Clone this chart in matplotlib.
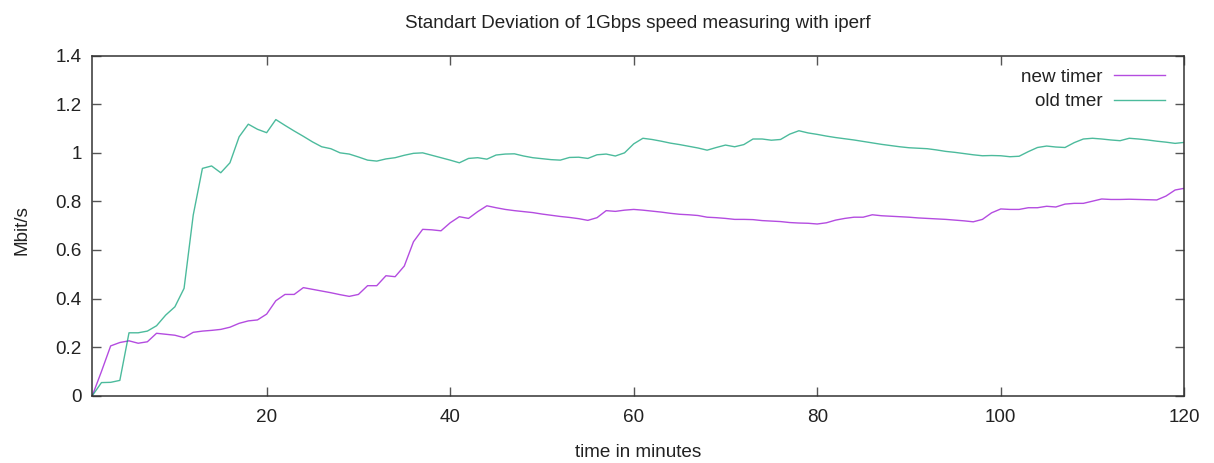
import matplotlib
matplotlib.use("Agg")
import matplotlib.pyplot as plt
from matplotlib.ticker import FormatStrFormatter, MultipleLocator

minutes = list(range(1, 121))
new_timer = [
    0.000, 0.100, 0.205, 0.219, 0.226, 0.216, 0.222, 0.257, 0.253, 0.249,
    0.239, 0.261, 0.266, 0.269, 0.273, 0.282, 0.298, 0.308, 0.312, 0.336,
    0.391, 0.417, 0.417, 0.445, 0.438, 0.431, 0.424, 0.416, 0.409, 0.417,
    0.453, 0.453, 0.494, 0.490, 0.534, 0.634, 0.685, 0.683, 0.679, 0.712,
    0.737, 0.730, 0.758, 0.782, 0.774, 0.767, 0.762, 0.758, 0.754, 0.748,
    0.743, 0.738, 0.734, 0.729, 0.722, 0.733, 0.762, 0.759, 0.764, 0.767,
    0.764, 0.760, 0.756, 0.751, 0.747, 0.745, 0.742, 0.735, 0.733, 0.730,
    0.726, 0.726, 0.725, 0.721, 0.719, 0.717, 0.713, 0.711, 0.710, 0.707,
    0.712, 0.723, 0.730, 0.735, 0.735, 0.745, 0.741, 0.739, 0.737, 0.735,
    0.732, 0.730, 0.728, 0.726, 0.723, 0.720, 0.716, 0.726, 0.753, 0.769,
    0.767, 0.767, 0.774, 0.774, 0.780, 0.777, 0.789, 0.792, 0.792, 0.801,
    0.810, 0.808, 0.808, 0.809, 0.808, 0.807, 0.806, 0.822, 0.847, 0.854,
]
old_timer = [
    0.000, 0.054, 0.055, 0.063, 0.259, 0.259, 0.266, 0.288, 0.332, 0.366,
    0.442, 0.744, 0.936, 0.946, 0.918, 0.959, 1.066, 1.118, 1.097, 1.083,
    1.137, 1.113, 1.090, 1.068, 1.045, 1.025, 1.017, 1.000, 0.995, 0.983,
    0.970, 0.966, 0.975, 0.980, 0.990, 0.998, 1.000, 0.990, 0.980, 0.970,
    0.959, 0.977, 0.980, 0.974, 0.991, 0.995, 0.996, 0.987, 0.980, 0.976,
    0.972, 0.970, 0.981, 0.982, 0.977, 0.992, 0.995, 0.987, 1.000, 1.037,
    1.060, 1.055, 1.048, 1.040, 1.034, 1.027, 1.020, 1.011, 1.022, 1.032,
    1.025, 1.034, 1.057, 1.057, 1.052, 1.055, 1.077, 1.091, 1.082, 1.076,
    1.069, 1.063, 1.058, 1.053, 1.047, 1.041, 1.035, 1.030, 1.025, 1.021,
    1.019, 1.017, 1.012, 1.006, 1.002, 0.997, 0.992, 0.988, 0.989, 0.988,
    0.984, 0.986, 1.005, 1.022, 1.028, 1.024, 1.022, 1.042, 1.057, 1.060,
    1.057, 1.053, 1.050, 1.060, 1.057, 1.053, 1.048, 1.044, 1.039, 1.043,
]
series_labels = ["new timer", "old tmer"]
title = "Standart Deviation of 1Gbps speed measuring with iperf"
xlabel = "time in minutes"
ylabel = "Mbit/s"

plt.rcParams['font.family'] = ['Liberation Sans', 'DejaVu Sans']
FS = 13.6
TXT = '#222222'

fig = plt.figure(figsize=(12.14, 4.63), dpi=100)
W, H = 1214, 463
left, right, top, bottom = 92.3, 1184.3, 55.7, 395.7
aw, ah = right - left, bottom - top
ax = fig.add_axes([left / W, 1 - bottom / H, aw / W, ah / H])

ax.plot(minutes, new_timer, color='#9400d3', lw=1.0, label=series_labels[0], alpha=0.7)
ax.plot(minutes, old_timer, color='#009e73', lw=1.0, label=series_labels[1], alpha=0.7)

ax.set_xlim(1, 120)
ax.set_ylim(0, 1.4)
ax.xaxis.set_major_locator(MultipleLocator(20))
ax.yaxis.set_major_locator(MultipleLocator(0.2))
ax.yaxis.set_major_formatter(FormatStrFormatter('%g'))

for s in ax.spines.values():
    s.set_color('#333333')
    s.set_linewidth(1.1)
ax.tick_params(direction='in', length=6.5, width=1.0, color='#555555',
               top=True, right=True, labelsize=FS, labelcolor=TXT)
ax.tick_params(axis='y', pad=7.6)
ax.tick_params(axis='x', pad=9.9)

ax.set_title(title, fontsize=FS, color=TXT, pad=20)
ax.set_xlabel(xlabel, fontsize=FS, color=TXT)
ax.set_ylabel(ylabel, fontsize=FS, color=TXT)
ax.xaxis.set_label_coords(0.5, (bottom - 444.4) / ah)
ax.yaxis.set_label_coords((31 - left) / aw, (bottom - 230.5) / ah)

fs_px = FS * 100 / 72
leg = ax.legend(loc='upper right', frameon=False, markerfirst=False, fontsize=FS,
                handlelength=50.7 / fs_px, handletextpad=11.6 / fs_px,
                labelspacing=0.38, borderpad=0, borderaxespad=0,
                bbox_to_anchor=((1165 - left) / aw, (bottom - 68.6) / ah))
for t in leg.get_texts():
    t.set_color(TXT)

fig.savefig('out.png', dpi=100)
